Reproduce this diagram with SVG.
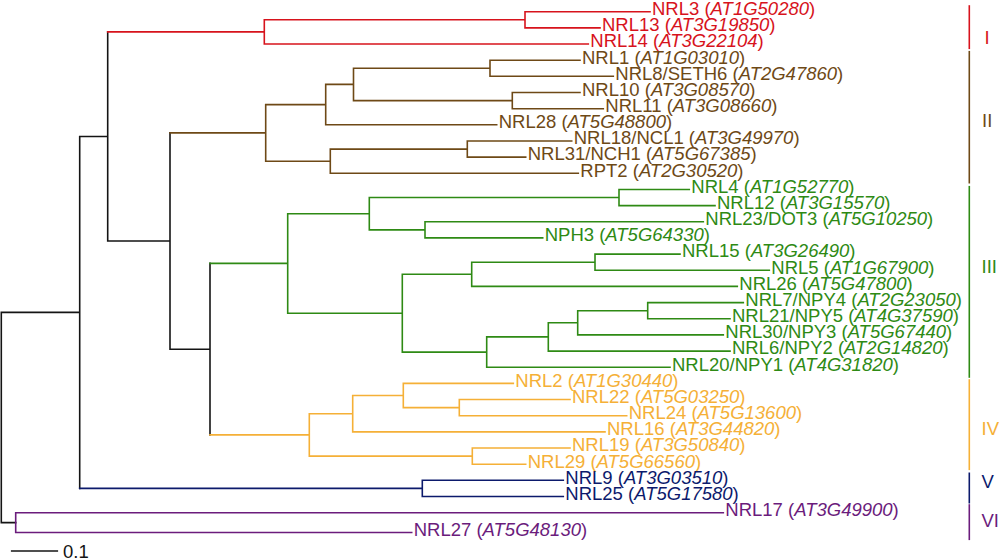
<svg xmlns="http://www.w3.org/2000/svg" width="1000" height="558" viewBox="0 0 1000 558">
<style>
path,line{fill:none;stroke-width:1.6;stroke-linecap:square}
.k{stroke:#141414}.r{stroke:#d7131c}.b{stroke:#6e4916}.g{stroke:#2e8a14}.y{stroke:#f5b037}.n{stroke:#0c1a6c}.p{stroke:#6b1c7c}
text{font-family:"Liberation Sans",Arial,sans-serif;font-size:18.5px}
.i{font-style:italic}
.tr{fill:#d7131c}.tb{fill:#6e4916}.tg{fill:#2e8a14}.ty{fill:#f5b037}.tn{fill:#0c1a6c}.tp{fill:#6b1c7c}.tk{fill:#141414}
</style>
<g id="connectors">
<path class="k" d="M1.3,312.4V522.6M1.3,312.4H79.7M1.3,522.6H15.7M79.7,136.5V488.4M79.7,136.5H107.7M107.7,31.9V241M107.7,241H170M170,132.9V349.2M170,349.2H210M210,263.4V434.9"/>
<path class="r" d="M107.7,31.9H264.3M264.3,19.8V44M264.3,19.8H525M525,11.7V27.9M525,11.7H650M525,27.9H600M264.3,44H588.3"/>
<path class="b" d="M170,132.9H265.7M265.7,104.6V161.2M265.7,104.6H325.7M325.7,84.4V124.8M325.7,84.4H353.5M353.5,68.3V100.6M353.5,68.3H490M490,60.2V76.3M490,60.2H580M490,76.3H613.3M353.5,100.6H512.3M512.3,92.5V108.7M512.3,92.5H580M512.3,108.7H603.3M325.7,124.8H496.7M265.7,161.2H330.3M330.3,149.1V173.3M330.3,149.1H467.3M467.3,141V157.1M467.3,141H571.7M467.3,157.1H525.7M330.3,173.3H578.3"/>
<path class="g" d="M210,263.4H287.7M287.7,213.7V313.2M287.7,213.7H369.3M369.3,197.5V229.9M369.3,197.5H619M619,189.5V205.6M619,189.5H689.3M619,205.6H715M369.3,229.9H425M425,221.8V237.9M425,221.8H703.3M425,237.9H542.7M287.7,313.2H402.3M402.3,274.3V352.1M402.3,274.3H471.7M471.7,262.2V286.4M471.7,262.2H595M595,254.1V270.3M595,254.1H680M595,270.3H769.3M471.7,286.4H737.3M402.3,352.1H486.7M486.7,336.9V367.2M486.7,336.9H548.3M548.3,322.8V351.1M548.3,322.8H577.7M577.7,310.7V334.9M577.7,310.7H647.7M647.7,302.6V318.7M647.7,302.6H743.3M647.7,318.7H730M577.7,334.9H723.3M548.3,351.1H730M486.7,367.2H670"/>
<path class="y" d="M210,434.9H309.3M309.3,413.7V456.1M309.3,413.7H352.7M352.7,395.5V431.9M352.7,395.5H403.3M403.3,383.4V407.6M403.3,383.4H513.3M403.3,407.6H459.3M459.3,399.5V415.7M459.3,399.5H570M459.3,415.7H626.7M352.7,431.9H605M309.3,456.1H472.3M472.3,448V464.2M472.3,448H570M472.3,464.2H525.7"/>
<path class="n" d="M79.7,488.4H422.3M422.3,480.3V496.5M422.3,480.3H563.3M422.3,496.5H563.3"/>
<path class="p" d="M15.7,512.7V532.5M15.7,512.7H723.3M15.7,532.5H411.7"/>
</g>
<g id="clade-bars">
<line class="r" x1="969.3" y1="6" x2="969.3" y2="48.3"/>
<line class="b" x1="969.3" y1="51.7" x2="969.3" y2="182.7"/>
<line class="g" x1="969.3" y1="186.7" x2="969.3" y2="377"/>
<line class="y" x1="969.3" y1="380" x2="969.3" y2="469.3"/>
<line class="n" x1="969.3" y1="473.3" x2="969.3" y2="502.7"/>
<line class="p" x1="969.3" y1="505" x2="969.3" y2="539.3"/>
<text class="tr" x="984.5" y="44.3">I</text>
<text class="tb" x="982" y="126.7">II</text>
<text class="tg" x="981.5" y="273.3">III</text>
<text class="ty" x="981.5" y="435">IV</text>
<text class="tn" x="981.5" y="488.3">V</text>
<text class="tp" x="981.5" y="526.7">VI</text>
</g>
<g id="scale">
<line class="k" x1="11.7" y1="551" x2="57.3" y2="551"/>
<text class="tk" x="63" y="557.5">0.1</text>
</g>
<g id="NRL3"><text class="tr" x="652" y="15">NRL3 (<tspan class="i">AT1G50280</tspan>)</text></g>
<g id="NRL13"><text class="tr" x="602" y="31.2">NRL13 (<tspan class="i">AT3G19850</tspan>)</text></g>
<g id="NRL14"><text class="tr" x="590.3" y="47.3">NRL14 (<tspan class="i">AT3G22104</tspan>)</text></g>
<g id="NRL1"><text class="tb" x="582" y="63.5">NRL1 (<tspan class="i">AT1G03010</tspan>)</text></g>
<g id="NRL8"><text class="tb" x="615.3" y="79.6">NRL8/SETH6 (<tspan class="i">AT2G47860</tspan>)</text></g>
<g id="NRL10"><text class="tb" x="582" y="95.8">NRL10 (<tspan class="i">AT3G08570</tspan>)</text></g>
<g id="NRL11"><text class="tb" x="605.3" y="112">NRL11 (<tspan class="i">AT3G08660</tspan>)</text></g>
<g id="NRL28"><text class="tb" x="498.7" y="128.1">NRL28 (<tspan class="i">AT5G48800</tspan>)</text></g>
<g id="NRL18"><text class="tb" x="573.7" y="144.3">NRL18/NCL1 (<tspan class="i">AT3G49970</tspan>)</text></g>
<g id="NRL31"><text class="tb" x="527.7" y="160.4">NRL31/NCH1 (<tspan class="i">AT5G67385</tspan>)</text></g>
<g id="RPT2"><text class="tb" x="580.3" y="176.6">RPT2 (<tspan class="i">AT2G30520</tspan>)</text></g>
<g id="NRL4"><text class="tg" x="691.3" y="192.8">NRL4 (<tspan class="i">AT1G52770</tspan>)</text></g>
<g id="NRL12"><text class="tg" x="717" y="208.9">NRL12 (<tspan class="i">AT3G15570</tspan>)</text></g>
<g id="NRL23"><text class="tg" x="705.3" y="225.1">NRL23/DOT3 (<tspan class="i">AT5G10250</tspan>)</text></g>
<g id="NPH3"><text class="tg" x="544.7" y="241.2">NPH3 (<tspan class="i">AT5G64330</tspan>)</text></g>
<g id="NRL15"><text class="tg" x="682" y="257.4">NRL15 (<tspan class="i">AT3G26490</tspan>)</text></g>
<g id="NRL5"><text class="tg" x="771.3" y="273.6">NRL5 (<tspan class="i">AT1G67900</tspan>)</text></g>
<g id="NRL26"><text class="tg" x="739.3" y="289.7">NRL26 (<tspan class="i">AT5G47800</tspan>)</text></g>
<g id="NRL7"><text class="tg" x="745.3" y="305.9">NRL7/NPY4 (<tspan class="i">AT2G23050</tspan>)</text></g>
<g id="NRL21"><text class="tg" x="732" y="322">NRL21/NPY5 (<tspan class="i">AT4G37590</tspan>)</text></g>
<g id="NRL30"><text class="tg" x="725.3" y="338.2">NRL30/NPY3 (<tspan class="i">AT5G67440</tspan>)</text></g>
<g id="NRL6"><text class="tg" x="732" y="354.4">NRL6/NPY2 (<tspan class="i">AT2G14820</tspan>)</text></g>
<g id="NRL20"><text class="tg" x="672" y="370.5">NRL20/NPY1 (<tspan class="i">AT4G31820</tspan>)</text></g>
<g id="NRL2"><text class="ty" x="515.3" y="386.7">NRL2 (<tspan class="i">AT1G30440</tspan>)</text></g>
<g id="NRL22"><text class="ty" x="572" y="402.8">NRL22 (<tspan class="i">AT5G03250</tspan>)</text></g>
<g id="NRL24"><text class="ty" x="628.7" y="419">NRL24 (<tspan class="i">AT5G13600</tspan>)</text></g>
<g id="NRL16"><text class="ty" x="607" y="435.2">NRL16 (<tspan class="i">AT3G44820</tspan>)</text></g>
<g id="NRL19"><text class="ty" x="572" y="451.3">NRL19 (<tspan class="i">AT3G50840</tspan>)</text></g>
<g id="NRL29"><text class="ty" x="527.7" y="467.5">NRL29 (<tspan class="i">AT5G66560</tspan>)</text></g>
<g id="NRL9"><text class="tn" x="565.3" y="483.6">NRL9 (<tspan class="i">AT3G03510</tspan>)</text></g>
<g id="NRL25"><text class="tn" x="565.3" y="499.8">NRL25 (<tspan class="i">AT5G17580</tspan>)</text></g>
<g id="NRL17"><text class="tp" x="725.3" y="516">NRL17 (<tspan class="i">AT3G49900</tspan>)</text></g>
<g id="NRL27"><text class="tp" x="413.7" y="535.8">NRL27 (<tspan class="i">AT5G48130</tspan>)</text></g>
</svg>
